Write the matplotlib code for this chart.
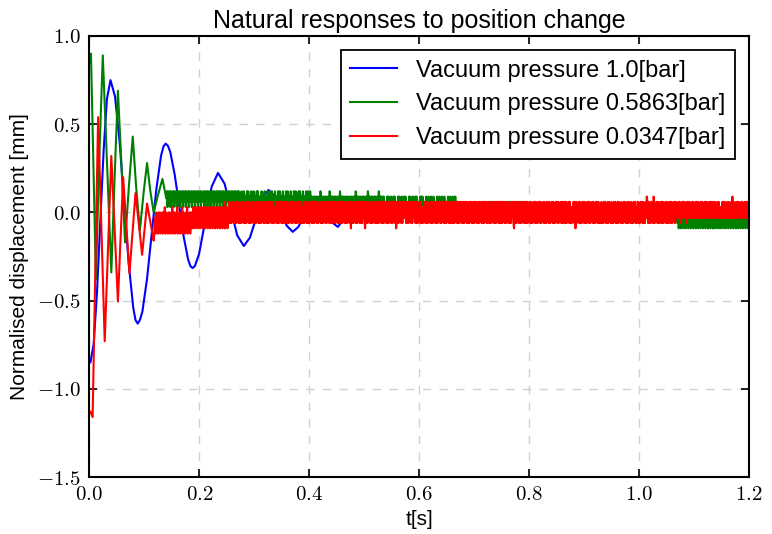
import numpy as np
import matplotlib
matplotlib.use("Agg")
import matplotlib.pyplot as plt
from matplotlib.ticker import FuncFormatter, MultipleLocator

# ---- data ----
LABELS = ["Vacuum pressure 1.0[bar]",
          "Vacuum pressure 0.5863[bar]",
          "Vacuum pressure 0.0347[bar]"]

# blue: smooth damped oscillation
BLUE_T = [0.0, 0.002, 0.008, 0.014, 0.020, 0.026, 0.032, 0.0385,
          0.0467, 0.055, 0.0632, 0.0715, 0.0798, 0.084, 0.088, 0.092,
          0.0965, 0.105, 0.1135, 0.122, 0.1305, 0.135, 0.139, 0.143,
          0.1472, 0.1553, 0.1635, 0.1717, 0.1798, 0.184, 0.188, 0.192,
          0.1995, 0.211, 0.2225, 0.234, 0.246, 0.2575, 0.269, 0.281,
          0.292, 0.3035, 0.315, 0.326, 0.337, 0.348, 0.359, 0.370,
          0.3805, 0.391, 0.4015, 0.412, 0.422, 0.432, 0.442, 0.452,
          0.472, 0.492, 0.512, 0.532, 0.552, 0.572, 0.592, 0.612,
          0.65, 0.70, 0.80, 1.20]
BLUE_Y = [-0.85, -0.85, -0.743, -0.45, -0.05, 0.35, 0.643, 0.75,
          0.658, 0.405, 0.06, -0.285, -0.538, -0.61, -0.63, -0.61,
          -0.562, -0.375, -0.12, 0.135, 0.322, 0.375, 0.39, 0.377,
          0.343, 0.214, 0.0375, -0.139, -0.268, -0.305, -0.315, -0.303,
          -0.236, -0.045, 0.146, 0.224, 0.163, 0.017, -0.13, -0.19,
          -0.143, -0.031, 0.081, 0.128, 0.093, 0.009, -0.075, -0.11,
          -0.081, -0.011, 0.059, 0.088, 0.063, 0.003, -0.057, -0.082,
          0.0, 0.05, 0.0, -0.045, 0.0, 0.035, 0.0, -0.03,
          0.02, -0.01, 0.0, 0.0]

# green: first oscillations, then a quantised noisy tail
GREEN_T = [0.0, 0.003, 0.0075, 0.012, 0.018, 0.0245, 0.032, 0.040,
           0.046, 0.052, 0.058, 0.065, 0.072, 0.079, 0.085, 0.092,
           0.099, 0.105, 0.111, 0.117, 0.125, 0.133, 0.140]
GREEN_Y = [0.85, 0.90, 0.25, -0.38, 0.30, 0.89, 0.30, -0.34,
           0.20, 0.69, 0.30, -0.17, 0.15, 0.43, 0.15, -0.10,
           0.12, 0.28, 0.12, 0.00, 0.10, 0.19, 0.08]
GREEN_TAIL = (
    "858768587685867858768586785876858768587685876858678587685876"
    "685876858768587685867858768587685876858768587685867858768587"
    "757857685757868575785768575786857576857578657587685758675786"
    "575876857578657587685757865758768575786857578657587685758675"
    "575765757657587575765757657587575765757657575876575765757657"
    "657576575758757657576575765757587576575765757657587576575765"
    "565757565756575756565757565756575756565757565756575756565757"
    "575656575657565756575656575657565756575656575657565756575656"
    "464546454645464546454645464546454645464546454645464546454645"
    "546454645464546454645464546454645464546454645464546454645464"
    "353435343534353435343534353435343534353435343534353435343534"
    "435343534353435343534353435343534353435343534353435343534353"
    "343435343534343534353434353435343534353424353435343534343534"
    "434353425343435343534243534353435342434353435343524343534353"
    "323132313231323132313231323132313231323132313231323132313231"
    "213231323132313231323132313231323132313231323132313231323123"
)

# red: sharp first oscillations, then a quantised noisy tail
RED_T = [0.002, 0.006, 0.016, 0.028, 0.040, 0.052, 0.0615, 0.073,
         0.084, 0.096, 0.105, 0.117]
RED_Y = [-1.13, -1.16, 0.54, -0.73, 0.32, -0.505, 0.20, -0.345,
         0.11, -0.24, 0.05, -0.16]
RED_TAIL = (
    "030413041403140415041304140315041403150314041504130415031404"
    "141525142514251524152514251425152415251425152415251426152514"
    "262526362526263526252636252626352625263625262635262526362526"
    "526262536262525362626253626252636262526362625362625263626252"
    "262536262526362625263626253626252636262536262526362625362626"
    "625263626252636261625263626253626252636216262536262526362625"
    "262536262526362625263626253626162526362625363626252636262536"
    "526262536262525362626253626252636262526362625362625263626252"
    "262526362526263526252636252626352625263625262635262526362526"
    "625263626252636262625263626253626252636216262536262526362625"
    "262536262526362625263626253626252636262536262526362625362626"
    "526262536262525362616253626252636262526362625362625263626252"
    "262526362526263526252636252626352625263625262635262526362526"
    "625263626252637626252636276253626252636262536262526362625362"
    "263536362536363635263636353636353636363536363536363635363636"
    "536363536363535363636353636353637363536363635363635363636353"
)
LEVEL_STEP = 0.03   # quantisation step of the sensor, digit 4 = 0.0


def tail_values(codes):
    return [(int(c) - 4) * LEVEL_STEP for c in codes]


def tail_times(start, codes):
    return np.linspace(start, 1.2, len(codes) + 1)[1:]


plt.rcParams["font.family"] = ["Liberation Sans", "DejaVu Sans"]
plt.rcParams["mathtext.fontset"] = "cm"

fig = plt.figure(figsize=(7.72, 5.34), dpi=100)
ax = fig.add_axes([0.1157, 0.1065, 0.8547, 0.8261])

green_t = np.concatenate([GREEN_T, tail_times(GREEN_T[-1], GREEN_TAIL)])
green_y = np.concatenate([GREEN_Y, tail_values(GREEN_TAIL)])
red_t = np.concatenate([RED_T, tail_times(RED_T[-1], RED_TAIL)])
red_y = np.concatenate([RED_Y, tail_values(RED_TAIL)])

ax.plot(BLUE_T, BLUE_Y, color="b", lw=1.5, label=LABELS[0])
ax.plot(green_t, green_y, color="g", lw=1.5, label=LABELS[1])
ax.plot(red_t, red_y, color="r", lw=1.5, label=LABELS[2])

ax.set_xlim(0, 1.2)
ax.set_ylim(-1.5, 1.0)
ax.xaxis.set_major_locator(MultipleLocator(0.2))
ax.yaxis.set_major_locator(MultipleLocator(0.5))
fmt = FuncFormatter(lambda v, p: r"$%.1f$" % v)
ax.xaxis.set_major_formatter(fmt)
ax.yaxis.set_major_formatter(fmt)
ax.tick_params(direction="in", top=True, right=True, length=6, width=1.2,
               labelsize=15, pad=6)
for s in ax.spines.values():
    s.set_linewidth(1.5)

ax.grid(True, color="0.82", linestyle=(0, (6, 6)), lw=1)
ax.set_axisbelow(True)

ax.set_title("Natural responses to position change", fontsize=18, pad=6)
ax.set_xlabel("t[s]", fontsize=15, labelpad=4)
ax.set_ylabel("Normalised displacement [mm]", fontsize=15, labelpad=6)

leg = ax.legend(loc="upper right", fontsize=17, fancybox=False,
                edgecolor="black", framealpha=1, handlelength=2,
                borderaxespad=0.6)
leg.get_frame().set_linewidth(1.3)

fig.savefig("out.png", dpi=100)
